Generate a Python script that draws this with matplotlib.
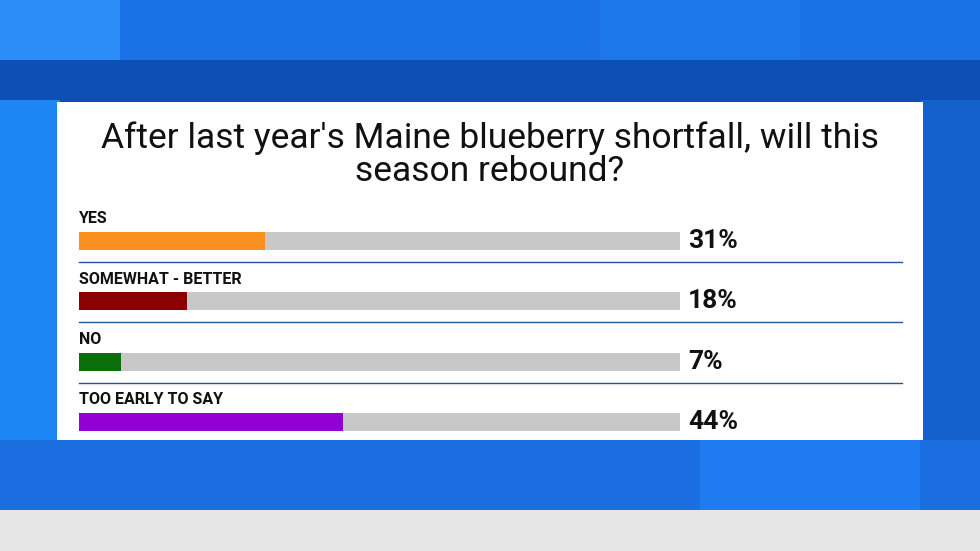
import matplotlib
matplotlib.use("Agg")
import matplotlib.pyplot as plt
from matplotlib.patches import Rectangle

categories = ["YES", "SOMEWHAT - BETTER", "NO", "TOO EARLY TO SAY"]
values = [31, 18, 7, 44]
colors = ["#f7901e", "#8b0000", "#0a6e0a", "#9400d3"]
title = "After last year's Maine blueberry shortfall, will this\nseason rebound?"

W, H = 980, 551
fig = plt.figure(figsize=(9.8, 5.51), dpi=100)
bg = fig.add_axes([0, 0, 1, 1])
bg.set_xlim(0, W); bg.set_ylim(H, 0); bg.axis("off")
bg.add_patch(Rectangle((0, 0), W, 510, color="#1565d8"))
tiles = [(0, 0, 980, 60, "#1a72e6"), (0, 60, 980, 45, "#0d4fb5"),
         (0, 100, 60, 350, "#1c86f5"), (920, 100, 60, 350, "#1460cc"),
         (0, 440, 980, 70, "#1a6ee0"), (700, 440, 220, 70, "#1f7cf0"),
         (0, 0, 120, 60, "#2c8cf8"), (600, 0, 200, 60, "#1c78ea")]
for x, y, w, h, c in tiles:
    bg.add_patch(Rectangle((x, y), w, h, color=c, lw=0))
bg.add_patch(Rectangle((0, 510), W, 41, color="#e6e6e6", lw=0))
bg.add_patch(Rectangle((57, 102), 866, 338, color="white", lw=0))
bg.text(490, 155, title, ha="center", va="center", fontsize=25.5,
        family="Roboto", color="#111111", linespacing=1.0)

ax = fig.add_axes([79 / W, 1 - 452 / H, 601 / W, 241 / H])
ax.set_xlim(0, 100); ax.set_ylim(3.5, -0.5); ax.axis("off")
n = len(categories)
ax.barh(range(n), [100] * n, height=0.3, color="#c8c8c8")
ax.barh(range(n), values, height=0.3, color=colors)
for i, (c, v) in enumerate(zip(categories, values)):
    ax.text(0, i - 0.37, c, ha="left", va="center", fontsize=11.5,
            fontweight="bold", family="Roboto", color="#111111")
    ax.text(101.3, i, f"{v}%", ha="left", va="center", fontsize=19,
            fontweight="bold", family="Roboto", color="#111111")
    if i < n - 1:
        ax.plot([0, 137], [i + 0.35, i + 0.35], color="#2a4fa0", lw=1, clip_on=False)

fig.savefig("out.png", dpi=100)
